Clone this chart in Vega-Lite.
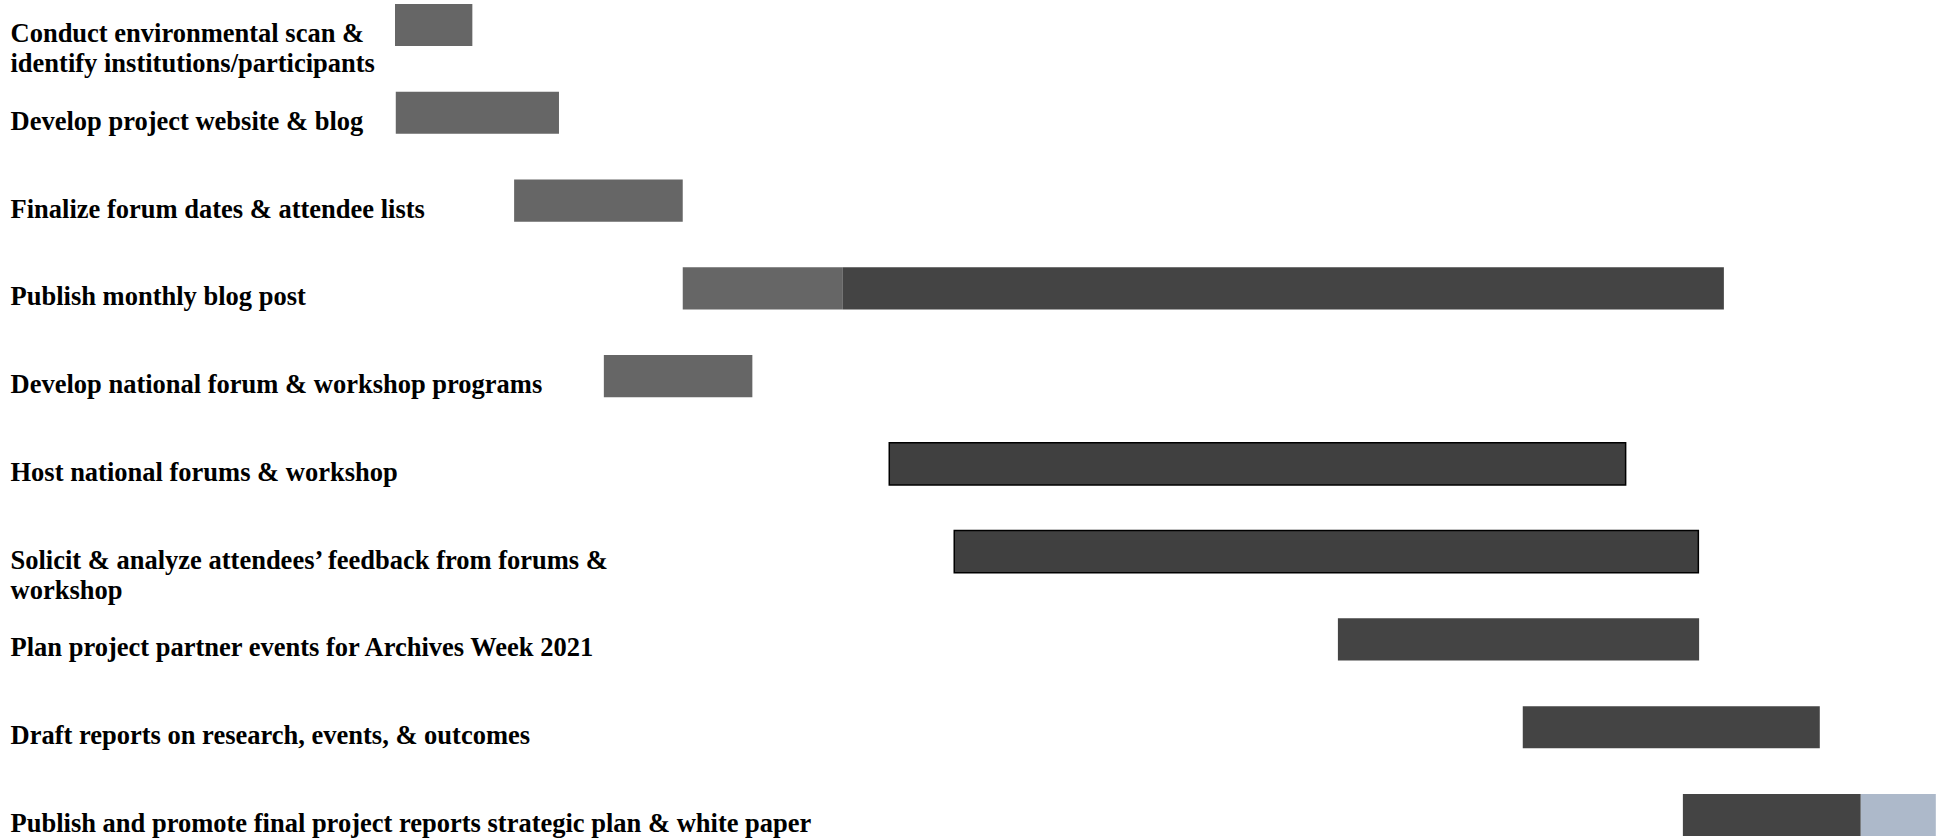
{
  "$schema": "https://vega.github.io/schema/vega-lite/v6.json",
  "autosize": "none",
  "padding": {"left": 395, "top": 0, "right": 0, "bottom": 0},
  "width": 1547,
  "height": 840,
  "background": "white",
  "config": {"view": {"stroke": null}},
  "data": {
    "values": [
      {"task": "Conduct environmental scan &\nidentify institutions/participants", "start": 0.0, "end": 1.0, "phase": "Preparation"},
      {"task": "Develop project website & blog", "start": 0.01, "end": 2.12, "phase": "Preparation"},
      {"task": "Finalize forum dates & attendee lists", "start": 1.54, "end": 3.72, "phase": "Preparation"},
      {"task": "Publish monthly blog post", "start": 3.72, "end": 5.79, "phase": "Preparation"},
      {"task": "Publish monthly blog post", "start": 5.79, "end": 17.18, "phase": "Implementation"},
      {"task": "Develop national forum & workshop programs", "start": 2.7, "end": 4.62, "phase": "Preparation"},
      {"task": "Host national forums & workshop", "start": 6.39, "end": 15.91, "phase": "Events"},
      {"task": "Solicit & analyze attendees’ feedback from forums &\nworkshop", "start": 7.23, "end": 16.85, "phase": "Events"},
      {"task": "Plan project partner events for Archives Week 2021", "start": 12.19, "end": 16.86, "phase": "Implementation"},
      {"task": "Draft reports on research, events, & outcomes", "start": 14.58, "end": 18.42, "phase": "Implementation"},
      {"task": "Publish and promote final project reports strategic plan & white paper", "start": 16.65, "end": 18.95, "phase": "Implementation"},
      {"task": "Publish and promote final project reports strategic plan & white paper", "start": 18.95, "end": 19.92, "phase": "Dissemination"}
    ]
  },
  "mark": {"type": "bar", "strokeWidth": 1.5},
  "encoding": {
    "y": {
      "field": "task",
      "type": "nominal",
      "sort": null,
      "scale": {"paddingInner": 0.52, "paddingOuter": 0.045},
      "axis": {
        "title": null,
        "domain": false,
        "ticks": false,
        "tickSize": 0,
        "labelPadding": 385,
        "labelAlign": "left",
        "labelFont": "Liberation Serif",
        "labelFontWeight": "bold",
        "labelFontSize": 26.5,
        "labelColor": "black",
        "labelLimit": 0,
        "labelOffset": 9,
        "labelLineHeight": 30,
        "labelOverlap": false,
        "labelExpr": "split(datum.label, '\\n')"
      }
    },
    "x": {"field": "start", "type": "quantitative", "scale": {"domain": [0, 20], "nice": false, "zero": false}, "axis": null},
    "x2": {"field": "end"},
    "color": {
      "field": "phase",
      "type": "nominal",
      "scale": {"domain": ["Preparation", "Implementation", "Events", "Dissemination"], "range": ["#666666", "#444444", "#404040", "#ADB9CA"]},
      "legend": null
    },
    "stroke": {"condition": {"test": "datum.phase === 'Events'", "value": "black"}, "value": "transparent"}
  }
}
